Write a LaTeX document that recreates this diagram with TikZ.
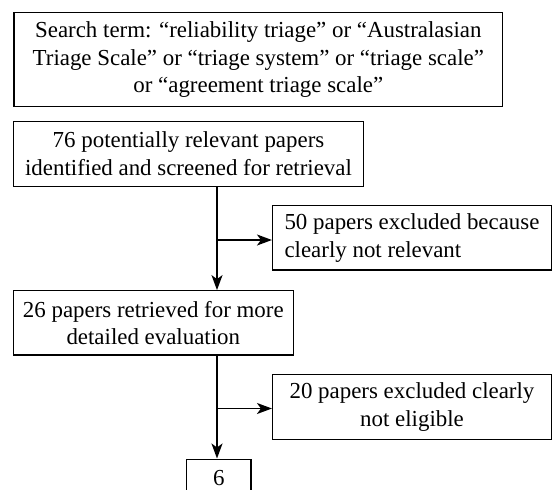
\documentclass[tikz,border=0pt]{standalone}
\usepackage{fontspec}
\setmainfont{Liberation Serif}
\usetikzlibrary{arrows.meta}
\begin{document}
\begin{tikzpicture}[x=1pt,y=-1pt,
  box/.style={draw=black,line width=1.1pt,inner sep=0pt,align=center,
    font=\fontsize{22.9}{27.5}\selectfont},
  arr/.style={line width=1.6pt,-{Stealth[length=15pt,width=11pt,inset=4pt]}},
  link/.style={line width=1.6pt}]
\useasboundingbox (0,0) rectangle (552,490);
\node[box,minimum width=488.7pt,minimum height=94pt] (search) at (258.3,59.7)
  {Search term: “reliability triage” or “Australasian\\Triage Scale” or “triage system” or “triage scale”\\or “agreement triage scale”};
\node[box,minimum width=350.4pt,minimum height=64.3pt] (ident) at (188.5,153.9)
  {76 potentially relevant papers\\identified and screened for retrieval};
\node[box,align=left,minimum width=279pt,minimum height=64.2pt] (excl1) at (412,237.9)
  {50 papers excluded because\\clearly not relevant};
\node[box,minimum width=280pt,minimum height=64.3pt] (retr) at (153.3,322.8)
  {26 papers retrieved for more\\detailed evaluation};
\node[box,minimum width=279pt,minimum height=64.6pt] (excl2) at (412,407)
  {20 papers excluded clearly\\not eligible};
\node[box,anchor=north,minimum width=64.3pt,inner ysep=11pt] (six) at (218.8,458.5) {6};
\coordinate (c1) at (217,240);
\coordinate (c2) at (217,408.5);
\draw[arr] (c1 |- ident.south) -- (c1 |- retr.north);
\draw[arr] (c1) -- (c1 -| excl1.west);
\draw[arr] (c2 |- retr.south) -- (c2 |- six.north);
\draw[arr] (c2) -- (c2 -| excl2.west);
\end{tikzpicture}
\end{document}
